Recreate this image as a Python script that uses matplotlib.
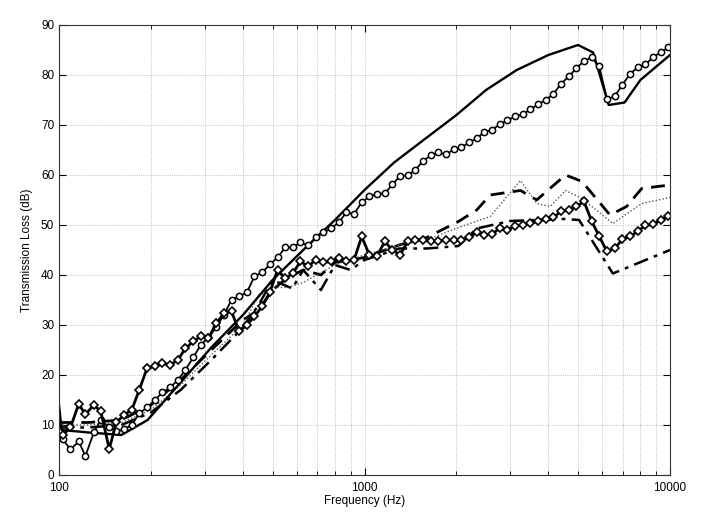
import matplotlib
matplotlib.use('Agg')
import matplotlib.pyplot as plt
from matplotlib.ticker import FixedLocator, FixedFormatter, NullFormatter

plt.rcParams['font.family'] = ['Liberation Sans', 'DejaVu Sans']

# 1/12 octave bands used by the two marker curves
freq_12 = [103, 109, 116, 122, 130, 137, 146, 154, 163, 173,
           183, 194, 206, 218, 231, 245, 259, 275, 291, 308,
           327, 346, 367, 389, 412, 436, 462, 490, 519, 550,
           582, 617, 654, 692, 734, 777, 823, 872, 924, 979,
           1037, 1099, 1165, 1234, 1307, 1385, 1467, 1554, 1647, 1745,
           1848, 1958, 2075, 2198, 2329, 2467, 2614, 2769, 2934, 3109,
           3293, 3489, 3697, 3917, 4149, 4396, 4658, 4934, 5228, 5539,
           5868, 6217, 6587, 6978, 7393, 7833, 8299, 8792, 9315, 9869]

tl_circles = [7.1, 5.1, 6.7, 3.8, 8.5, 11, 9.5, 8.7, 9.1, 10,
              12.3, 13.5, 15, 16.5, 17.5, 19, 21, 23.5, 26, 27.5,
              29.5, 32, 35, 35.7, 36.5, 39.7, 40.5, 42.1, 43.5, 45.5,
              45.5, 46.5, 45.9, 47.5, 48.5, 49.3, 50.5, 52.5, 52.2, 54.5,
              55.7, 56.2, 56.3, 58.1, 59.8, 59.9, 61, 62.8, 63.9, 64.5,
              64.1, 65.1, 65.5, 66.5, 67.3, 68.6, 69, 70.1, 70.9, 71.7,
              72.1, 73.1, 74.1, 75, 76.2, 78.2, 79.7, 81.3, 82.8, 83.5,
              81.7, 75.2, 75.7, 78, 80.2, 81.5, 82.1, 83.5, 84.5, 85.5]

tl_diamonds = [8, 9.5, 14.2, 12.1, 14, 12.7, 5.2, 10.5, 12, 13,
               17, 21.3, 21.8, 22.3, 22, 23, 25.3, 26.7, 27.7, 27.3,
               30.3, 32.3, 32.7, 28.7, 30, 31.7, 33.7, 36.5, 41, 39.3,
               40.3, 42.7, 41.7, 43, 42.5, 42.7, 43.3, 42.7, 43, 47.7,
               44, 43.8, 46.7, 45, 44, 46.7, 47, 47, 46.7, 46.7,
               47, 47, 47, 47.5, 48.5, 48, 48.2, 49.3, 49, 49.8,
               50, 50.3, 50.8, 51.1, 51.5, 52.7, 53, 53.7, 54.7, 50.8,
               47.7, 44.7, 45.3, 47.1, 47.7, 48.7, 49.9, 50.1, 51, 51.7]

# thick solid curve
freq_solid = [100, 102, 125, 160, 195, 250, 315, 400, 500, 630, 800, 1000,
              1250, 1600, 2000, 2500, 3150, 4000, 5000, 5600, 6300, 7100, 8000, 10000]
tl_solid = [14, 9, 8.5, 8, 11, 18.5, 25.5, 32, 39, 45, 51, 57,
            62.5, 67.5, 72, 77, 81, 84, 86, 84.5, 74, 74.5, 79, 84]

# dashed curve
freq_dash = [100, 125, 160, 200, 250, 315, 400, 450, 500, 560, 630, 720, 800, 900,
             1000, 1300, 1600, 2030, 2330, 2580, 3240, 3660, 4550, 5150, 6360, 7210, 8080, 10000]
tl_dash = [10.5, 10.5, 11, 14, 19, 25, 31, 33, 37, 39.5, 41, 40, 42.5, 43,
           43.5, 46, 47.5, 50.7, 53, 56, 56.9, 55, 60, 58.7, 52, 53.7, 57.3, 58]

# dotted curve
freq_dot = [100, 125, 160, 200, 250, 315, 400, 450, 500, 560, 630, 720, 800,
            1000, 1300, 1600, 2030, 2580, 3240, 3660, 4050, 4550, 5150, 6500, 8080, 10000]
tl_dot = [10, 10, 10.5, 13, 18, 24, 30, 36, 37.5, 37.5, 38.5, 40.5, 42,
          44, 46, 47, 49.5, 51.7, 58.9, 54.3, 53.7, 56.9, 55.3, 50.3, 54.3, 55.5]

# dash-dot curve
freq_dashdot = [100, 125, 160, 200, 250, 315, 400, 450, 500, 580, 630, 720, 800, 900,
                1000, 1300, 1600, 2030, 2330, 3000, 4500, 5040, 6500, 10000]
tl_dashdot = [9.5, 9.5, 10, 12.5, 17, 23, 29.5, 34, 39, 37.3, 41, 37, 42, 41,
              43, 45.3, 45.3, 45.8, 49.3, 50.8, 51.2, 51, 40.3, 45]

fig = plt.figure(figsize=(7.01, 5.14), dpi=100)
ax = fig.add_axes([0.0842, 0.0759, 0.8716, 0.8755])

ax.plot(freq_dash, tl_dash, color='black', lw=2.0, ls=(0, (5, 3)))
ax.plot(freq_dot, tl_dot, color='#555555', lw=1.0, ls=(0, (1, 1.5)))
ax.plot(freq_dashdot, tl_dashdot, color='black', lw=1.8, ls=(0, (6, 2.5, 1.5, 2.5)))
ax.plot(freq_solid, tl_solid, color='black', lw=1.7)
ax.plot(freq_12, tl_circles, color='black', lw=1.3, marker='o', ms=4.5,
        mfc='white', mec='black', mew=1.1)
ax.plot(freq_12, tl_diamonds, color='black', lw=2.0, marker='D', ms=3.6,
        mfc='white', mec='black', mew=1.2)

ax.set_xscale('log')
ax.set_xlim(100, 10000)
ax.set_ylim(0, 90)
ax.set_yticks(range(0, 91, 10))
ax.xaxis.set_major_locator(FixedLocator([100, 1000, 10000]))
ax.xaxis.set_major_formatter(FixedFormatter(['100', '1000', '10000']))
ax.xaxis.set_minor_formatter(NullFormatter())

ax.grid(True, which='major', ls=':', color='#aaaaaa', lw=0.6)
ax.grid(True, which='minor', axis='x', ls=':', color='#aaaaaa', lw=0.6)
ax.tick_params(which='both', direction='in', top=True, right=True, labelsize=8.5)
ax.tick_params(which='major', length=5)
ax.tick_params(which='minor', length=3)
ax.tick_params(axis='x', pad=5)
for s in ax.spines.values():
    s.set_linewidth(0.8)
    s.set_color('#333333')

ax.set_xlabel('Frequency (Hz)', fontsize=8.5, labelpad=1)
ax.set_ylabel('Transmission Loss (dB)', fontsize=8.5, labelpad=6)

fig.savefig('out.png', dpi=100)
